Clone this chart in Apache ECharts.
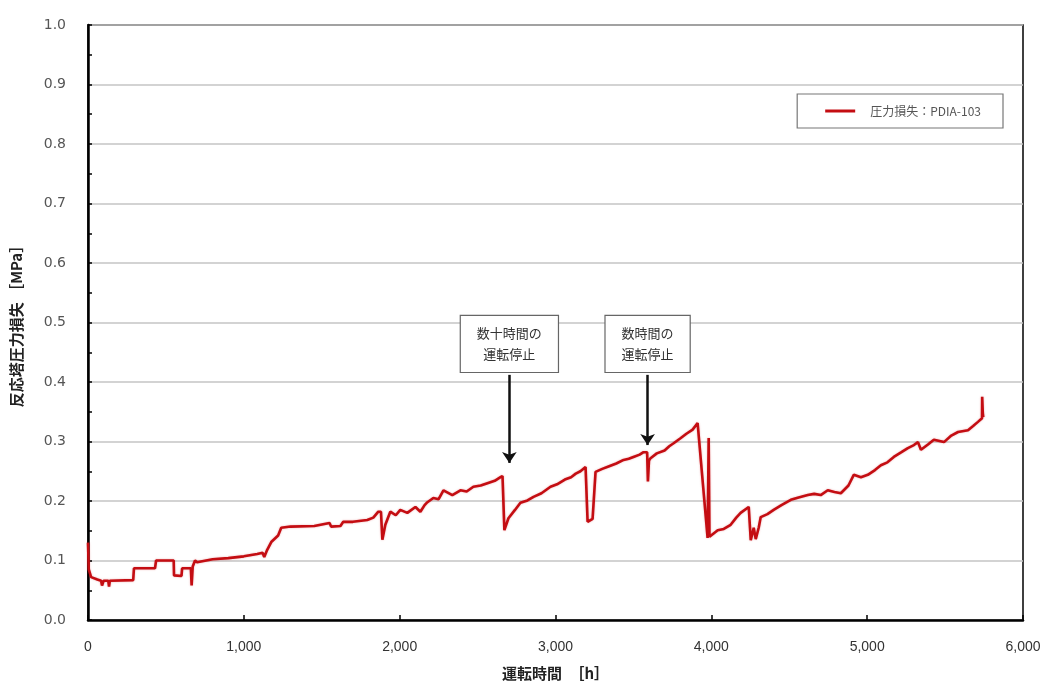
<!DOCTYPE html>
<html>
<head>
<meta charset="utf-8">
<script src="https://cdn.jsdelivr.net/npm/echarts@6/dist/echarts.min.js"></script>
<style>
  html, body { margin: 0; padding: 0; background: #fff; }
  #chart { width: 1047px; height: 687px; }
</style>
</head>
<body>
<div id="chart"></div>
<script>
// Operating hours [h] and reactor pressure loss [MPa]
const hours = [
  0, 5, 20, 60, 84, 90, 100, 130, 135, 140, 290, 295, 300, 430, 437, 440, 550, 552, 560, 600, 604, 610,
  660, 665, 672, 687, 700, 710, 800, 900, 1000, 1086, 1120, 1131, 1150, 1176, 1220, 1240, 1300, 1452,
  1550, 1560, 1620, 1638, 1700, 1792, 1831, 1863, 1880, 1889, 1908, 1940, 1975, 2004, 2049, 2101, 2133, 2160, 2178,
  2216, 2250, 2281, 2338, 2390, 2430, 2473, 2520, 2563, 2610, 2647, 2660, 2672, 2698, 2740, 2775, 2820, 2859, 2910,
  2968, 3010, 3060, 3100, 3130, 3160, 3193, 3206,
  3238, 3257, 3300, 3340, 3390, 3437, 3470, 3500, 3540, 3565, 3588, 3593, 3600, 3610, 3650, 3700, 3730, 3758, 3800,
  3840, 3880, 3912, 3976, 3983, 3988,
  4041, 4080, 4124, 4160, 4188, 4240, 4253, 4272, 4285, 4304, 4317, 4360, 4400, 4450, 4510, 4560, 4619, 4660, 4702,
  4747, 4790, 4831, 4880, 4914, 4960, 5004, 5050, 5088, 5130, 5171, 5220, 5261, 5300, 5326, 5345, 5390, 5428, 5493,
  5540, 5583, 5647, 5680, 5711, 5737, 5738, 5742, 5745
];
const pressureLoss = [
  0.130, 0.085, 0.072, 0.068, 0.066, 0.058, 0.066, 0.066, 0.056, 0.066, 0.067, 0.087, 0.087, 0.087, 0.100, 0.100,
  0.100, 0.075, 0.075, 0.074, 0.087, 0.087, 0.087, 0.058, 0.090, 0.100, 0.097, 0.100, 0.102, 0.104, 0.107, 0.111,
  0.113, 0.106, 0.118, 0.131, 0.142, 0.155, 0.157, 0.158, 0.163, 0.157, 0.158, 0.165, 0.165, 0.168, 0.172, 0.182,
  0.182, 0.135, 0.160, 0.182, 0.176, 0.185, 0.180, 0.190, 0.182, 0.193, 0.198, 0.205, 0.203, 0.218, 0.210, 0.218,
  0.216, 0.224, 0.226, 0.230, 0.234, 0.240, 0.242, 0.151, 0.171, 0.185, 0.197, 0.201, 0.207, 0.213,
  0.224, 0.228, 0.236, 0.240, 0.246, 0.250, 0.257, 0.165,
  0.170, 0.249, 0.254, 0.258, 0.263, 0.269, 0.271, 0.274, 0.278, 0.282, 0.282, 0.233, 0.268, 0.272, 0.280, 0.285,
  0.292, 0.297, 0.305, 0.313, 0.320, 0.331, 0.138, 0.306, 0.140,
  0.151, 0.153, 0.160, 0.172, 0.180, 0.190, 0.134, 0.155, 0.136, 0.155, 0.173, 0.178, 0.185, 0.193, 0.202, 0.206,
  0.210, 0.212, 0.210, 0.218, 0.215, 0.213, 0.226, 0.244, 0.240, 0.244, 0.252, 0.260, 0.265, 0.274, 0.282, 0.289,
  0.294, 0.299, 0.286, 0.295, 0.303, 0.299, 0.310, 0.316, 0.319, 0.326, 0.333, 0.339, 0.375, 0.348, 0.341
];

// Axis ticks
const xTicks = [0, 1000, 2000, 3000, 4000, 5000, 6000];
const yTicks = [0.0, 0.1, 0.2, 0.3, 0.4, 0.5, 0.6, 0.7, 0.8, 0.9, 1.0];

// Shutdown notes: label, arrow x [h], arrow top / tip [MPa], box centre [MPa]
const noteTexts = ['数十時間の\n運転停止', '数時間の\n運転停止'];
const noteHours = [2704, 3591];
const noteTop = [0.412, 0.412];
const noteTip = [0.264, 0.294];
const noteBoxY = [0.464, 0.464];

const seriesName = '圧力損失：PDIA-103';
const jpFont = '"Noto Sans CJK JP", "Noto Sans", sans-serif';
const lineColor = '#c40d12';

const chart = echarts.init(document.getElementById('chart'), null, { renderer: 'canvas' });

const seriesData = hours.map((h, i) => [h, pressureLoss[i]]);

const option = {
  animation: false,
  backgroundColor: '#fff',
  grid: {
    left: 88, right: 24, top: 25, bottom: 67,
    outerBoundsMode: 'none',
    containLabel: false,
    show: true, borderColor: '#000', borderWidth: 1.5, backgroundColor: 'transparent'
  },
  legend: {
    data: [seriesName],
    right: 44, top: 94,
    orient: 'horizontal',
    itemWidth: 30, itemHeight: 3, itemGap: 10,
    padding: [11, 22, 11, 28],
    borderColor: '#777', borderWidth: 1.2,
    backgroundColor: '#fff',
    icon: 'rect',
    textStyle: { fontFamily: jpFont, fontSize: 12, color: '#555', padding: [0, 0, 0, 10] }
  },
  xAxis: {
    type: 'value',
    min: xTicks[0], max: xTicks[xTicks.length - 1], interval: 1000,
    name: '運転時間　［h］',
    nameLocation: 'middle', nameGap: 46,
    nameTextStyle: { fontFamily: jpFont, fontSize: 15, fontWeight: 'bold', color: '#222' },
    axisLine: { show: true, onZero: false, lineStyle: { color: '#000', width: 2.5 } },
    axisTick: { show: true, inside: true, length: 5, lineStyle: { color: '#000', width: 1.5 } },
    axisLabel: {
      margin: 20, color: '#333', fontSize: 14,
      fontFamily: '"Liberation Sans Narrow", "Liberation Sans", sans-serif',
      formatter: v => v.toLocaleString('en-US')
    },
    splitLine: { show: false }
  },
  yAxis: {
    type: 'value',
    min: yTicks[0], max: yTicks[yTicks.length - 1], interval: 0.1,
    name: '反応塔圧力損失 ［MPa］',
    nameLocation: 'middle', nameGap: 64, nameRotate: 90,
    nameTextStyle: { fontFamily: jpFont, fontSize: 15, fontWeight: 'bold', color: '#222' },
    axisLine: { show: true, lineStyle: { color: '#000', width: 2.5 } },
    axisTick: { show: true, inside: true, length: 4, lineStyle: { color: '#000', width: 1.5 } },
    minorTick: { show: true, splitNumber: 2, length: 4, lineStyle: { color: '#000', width: 1.5 } },
    axisLabel: {
      margin: 22, color: '#555', fontSize: 14,
      fontFamily: '"DejaVu Sans", Verdana, sans-serif',
      formatter: v => v.toFixed(1)
    },
    splitLine: { show: true, lineStyle: { color: '#c4c4c4', width: 1.6 } }
  },
  series: [
    {
      name: seriesName,
      type: 'line',
      data: seriesData,
      showSymbol: false,
      symbol: 'none',
      color: lineColor,
      lineStyle: { color: lineColor, width: 2.6, shadowColor: 'rgba(200,20,28,0.35)', shadowBlur: 2 },
      z: 3
    },
    {
      // shutdown notes: arrows and boxed labels
      name: 'notes',
      type: 'line',
      data: [],
      silent: true,
      markLine: {
        silent: true,
        symbol: ['none', 'arrow'],
        symbolSize: 11,
        label: { show: false },
        lineStyle: { color: '#111', width: 2.5, type: 'solid' },
        data: noteHours.map((h, i) => [
          { coord: [h, noteTop[i]], symbol: 'none' },
          { coord: [h, noteTip[i]], symbol: 'arrow', symbolSize: 11 }
        ])
      },
      markPoint: {
        silent: true,
        symbol: 'rect',
        symbolSize: 0,
        label: {
          show: true,
          position: 'inside',
          fontFamily: jpFont, fontSize: 13, color: '#333',
          lineHeight: 21,
          backgroundColor: '#fff',
          borderColor: '#666', borderWidth: 1.2,
          padding: [7, 16, 7, 16],
          formatter: p => p.name
        },
        data: noteHours.map((h, i) => ({ name: noteTexts[i], coord: [h, noteBoxY[i]] }))
      }
    }
  ]
};

chart.setOption(option);
</script>
</body>
</html>
